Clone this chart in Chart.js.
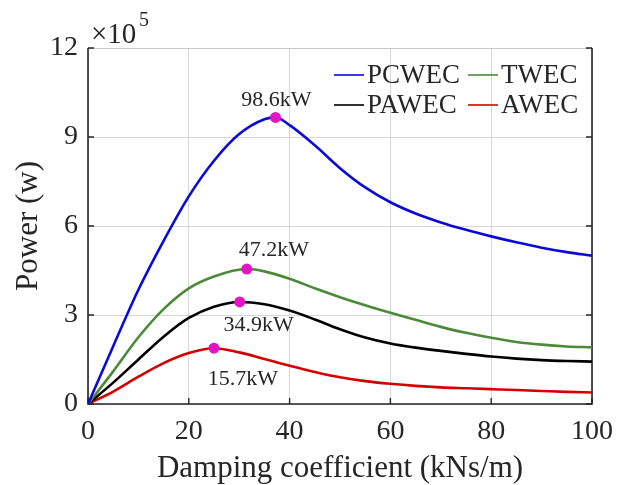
<!DOCTYPE html>
<html>
<head>
<meta charset="utf-8">
<script src="https://cdn.jsdelivr.net/npm/chart.js@4.4.0/dist/chart.umd.min.js"></script>
<style>
  html, body { margin: 0; background: #fff; }
  #wrap { width: 632px; height: 485px; }
</style>
</head>
<body>
<div id="wrap"><canvas id="powerChart"></canvas></div>
<script>
// damping coefficient (kNs/m) and power (x10^5 W)
const damping = [0, 5, 10, 15, 20, 25, 30, 35, 40, 45, 50, 55, 60, 65, 70, 75, 80, 85, 90, 95, 100];
const pcwec = [0, 1.95, 3.85, 5.5, 7.0, 8.2, 9.1, 9.6, 9.4, 8.72, 7.95, 7.3, 6.8, 6.42, 6.12, 5.87, 5.65, 5.45, 5.27, 5.12, 5.0];
const twec  = [0, 1.1, 2.25, 3.2, 3.9, 4.3, 4.52, 4.47, 4.22, 3.9, 3.6, 3.33, 3.08, 2.84, 2.6, 2.4, 2.23, 2.09, 2.0, 1.94, 1.91];
const pawec = [0, 0.72, 1.5, 2.27, 2.9, 3.28, 3.44, 3.36, 3.15, 2.85, 2.52, 2.24, 2.04, 1.9, 1.79, 1.69, 1.6, 1.53, 1.48, 1.45, 1.43];
const awec  = [0, 0.42, 0.92, 1.38, 1.72, 1.88, 1.74, 1.52, 1.29, 1.08, 0.9, 0.77, 0.68, 0.61, 0.56, 0.53, 0.5, 0.47, 0.44, 0.41, 0.39];

const seriesNames = ["PCWEC", "TWEC", "PAWEC", "AWEC"];
const seriesColors = ["#0a0ad2", "#4c8a3a", "#000000", "#d40000"];

// peak markers
const peakX = [37.2, 31.5, 30.1, 25];
const peakY = [9.66, 4.55, 3.44, 1.88];
const peakLabels = ["98.6kW", "47.2kW", "34.9kW", "15.7kW"];
const labelOffsets = [[1, -17], [27, -19], [19, 23], [29, 31]];

const yTicks = [0, 3, 6, 9, 12];
const xTicks = [0, 20, 40, 60, 80, 100];

const serif = "'Liberation Serif', 'Times New Roman', serif";
const ink = "#262626";

function buildSeries(ys, px, py) {
  const pts = damping
    .map((x, i) => ({ x: x, y: ys[i] }))
    .filter(p => Math.abs(p.x - px) > 1.5);
  pts.push({ x: px, y: py });
  pts.sort((a, b) => a.x - b.x);
  return pts;
}

const allY = [pcwec, twec, pawec, awec];
const datasets = allY.map((ys, i) => ({
  label: seriesNames[i],
  data: buildSeries(ys, peakX[i], peakY[i]),
  borderColor: seriesColors[i],
  borderWidth: 2.6,
  pointRadius: 0,
  fill: false,
  cubicInterpolationMode: "monotone",
  order: 1
}));
datasets.push({
  label: "peaks",
  data: peakX.map((x, i) => ({ x: x, y: peakY[i] })),
  showLine: false,
  pointRadius: 5.5,
  pointBackgroundColor: "#e414c4",
  pointBorderWidth: 0,
  order: 0
});

// box, inner tick marks, legend and labels
const framePlugin = {
  id: "frame",
  beforeDatasetsDraw(chart) {
    const { ctx, chartArea: a, scales } = chart;
    ctx.save();
    ctx.strokeStyle = "#c8c8c8";
    ctx.lineWidth = 1;
    ctx.beginPath();
    ctx.moveTo(a.left, a.top + 0.5);
    ctx.lineTo(a.right, a.top + 0.5);
    ctx.stroke();
    ctx.strokeStyle = ink;
    ctx.lineWidth = 1.6;
    ctx.beginPath();
    ctx.moveTo(a.left, a.top);
    ctx.lineTo(a.left, a.bottom);
    ctx.lineTo(a.right, a.bottom);
    ctx.lineTo(a.right, a.top);
    ctx.stroke();
    ctx.lineWidth = 1.4;
    ctx.beginPath();
    yTicks.forEach(v => {
      const y = scales.y.getPixelForValue(v);
      ctx.moveTo(a.left, y); ctx.lineTo(a.left + 6, y);
      ctx.moveTo(a.right, y); ctx.lineTo(a.right - 6, y);
    });
    xTicks.forEach(v => {
      const x = scales.x.getPixelForValue(v);
      ctx.moveTo(x, a.bottom); ctx.lineTo(x, a.bottom - 6);
    });
    ctx.stroke();
    ctx.restore();
  },
  afterDatasetsDraw(chart) {
    const { ctx, chartArea: a, scales } = chart;
    ctx.save();
    // exponent
    ctx.fillStyle = ink;
    ctx.textBaseline = "middle";
    ctx.textAlign = "left";
    ctx.font = "29px " + serif;
    ctx.fillText("\u00d710", a.left + 3, a.top - 13);
    ctx.font = "20px " + serif;
    ctx.fillText("5", a.left + 51, a.top - 27);

    // peak labels
    ctx.font = "22px " + serif;
    ctx.textAlign = "center";
    peakLabels.forEach((t, i) => {
      const x = scales.x.getPixelForValue(peakX[i]) + labelOffsets[i][0];
      const y = scales.y.getPixelForValue(peakY[i]) + labelOffsets[i][1];
      ctx.fillText(t, x, y);
    });

    // legend, two columns
    ctx.font = "27px " + serif;
    ctx.textAlign = "left";
    const cols = [a.left + 246, a.left + 380];
    const rows = [a.top + 27, a.top + 57];
    seriesNames.forEach((name, k) => {
      const x = cols[k % 2];
      const y = rows[Math.floor(k / 2)];
      ctx.strokeStyle = seriesColors[k];
      ctx.lineWidth = 1.6;
      ctx.beginPath();
      ctx.moveTo(x, y);
      ctx.lineTo(x + 30, y);
      ctx.stroke();
      ctx.fillStyle = ink;
      ctx.fillText(name, x + 33, y + 1);
    });
    ctx.restore();
  }
};

new Chart("powerChart", {
  type: "line",
  data: { datasets: datasets },
  options: {
    responsive: true,
    maintainAspectRatio: false,
    animation: false,
    devicePixelRatio: 1,
    layout: { padding: { top: 48, right: 40, left: 0, bottom: 0 } },
    plugins: {
      legend: { display: false },
      tooltip: { enabled: false }
    },
    scales: {
      x: {
        type: "linear",
        min: 0,
        max: 100,
        afterBuildTicks: s => { s.ticks = xTicks.map(v => ({ value: v })); },
        afterFit: s => { s.height = 81; },
        ticks: { font: { family: serif, size: 28 }, color: ink, padding: 11 },
        grid: { color: "#d6d6d6", drawTicks: false },
        border: { display: false },
        title: {
          display: true,
          text: "Damping coefficient (kNs/m)",
          font: { family: serif, size: 31 },
          color: ink,
          padding: { top: 0, bottom: -2 }
        }
      },
      y: {
        min: 0,
        max: 12,
        afterBuildTicks: s => { s.ticks = yTicks.map(v => ({ value: v })); },
        afterFit: s => { s.width = 88; },
        ticks: { font: { family: serif, size: 28 }, color: ink, padding: 10 },
        grid: { color: "#d6d6d6", drawTicks: false },
        border: { display: false },
        title: {
          display: true,
          text: "Power (w)",
          font: { family: serif, size: 31 },
          color: ink,
          padding: { top: 10, bottom: 0 }
        }
      }
    }
  },
  plugins: [framePlugin]
});
</script>
</body>
</html>
